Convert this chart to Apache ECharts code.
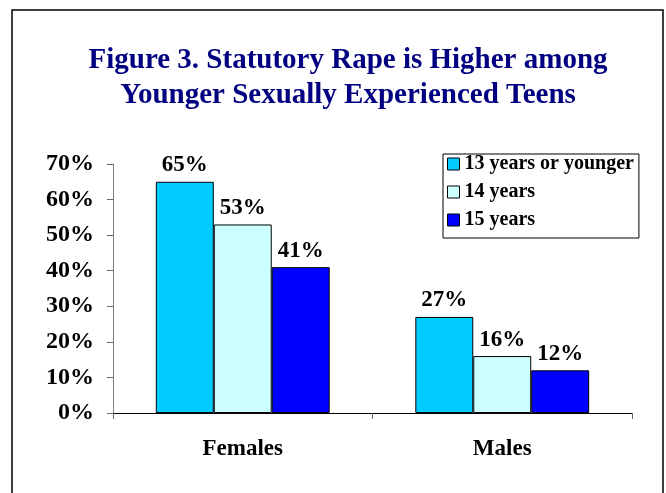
<!DOCTYPE html>
<html>
<head>
<meta charset="utf-8">
<script src="https://cdn.jsdelivr.net/npm/echarts@6/dist/echarts.min.js"></script>
<style>
  html, body { margin: 0; padding: 0; background: #fff; }
  #main { width: 666px; height: 493px; }
</style>
</head>
<body>
<div id="main"></div>
<script>
// data
const groups = ["Females", "Males"];
const ageNames = ["13 years or younger", "14 years", "15 years"];
const age13 = [65, 27];
const age14 = [53, 16];
const age15 = [41, 12];
const ageColors = ["#00CCFF", "#CCFFFF", "#0000FF"];

const serif = "Liberation Serif";

function barSeries(name, values, color) {
  return {
    name: name,
    type: "bar",
    data: values,
    barGap: "0%",
    barCategoryGap: "33%",
    itemStyle: {
      color: color,
      borderColor: "#000",
      borderWidth: 1,
    },
    label: {
      show: true,
      position: "top",
      distance: 5,
      formatter: "{c}%",
      fontFamily: serif,
      fontWeight: "bold",
      fontSize: 23,
      color: "#000",
    },
  };
}

var chartDom = document.getElementById("main");
var myChart = echarts.init(chartDom);
var option;

option = {
  backgroundColor: "#fff",
  animation: false,
  title: {
    text: "Figure 3. Statutory Rape is Higher among\nYounger Sexually Experienced Teens",
    left: 343,
    top: 38,
    textAlign: "center",
    textStyle: {
      fontFamily: serif,
      fontWeight: "bold",
      fontSize: 29,
      lineHeight: 35,
      color: "#000080",
    },
  },
  legend: {
    data: ageNames,
    orient: "vertical",
    left: 443,
    top: 154,
    padding: [0, 5, 8, 4],
    itemGap: 8,
    itemWidth: 12,
    itemHeight: 12,
    icon: "rect",
    borderColor: "#000",
    borderWidth: 1,
    itemStyle: { borderColor: "#000", borderWidth: 1 },
    textStyle: {
      fontFamily: serif,
      fontWeight: "bold",
      fontSize: 20,
      color: "#000",
    },
  },
  grid: {
    left: 113,
    right: 34,
    top: 164,
    bottom: 80,
  },
  xAxis: {
    type: "category",
    data: groups,
    axisLine: { lineStyle: { color: "#000", width: 1 } },
    axisTick: { show: true, length: 6, lineStyle: { color: "#666" } },
    axisLabel: {
      margin: 25,
      fontFamily: serif,
      fontWeight: "bold",
      fontSize: 23,
      color: "#000",
    },
  },
  yAxis: {
    type: "value",
    min: 0,
    max: 70,
    interval: 10,
    axisLine: { show: true, lineStyle: { color: "#808080", width: 1 } },
    axisTick: { show: true, length: 6, lineStyle: { color: "#666" } },
    splitLine: { show: false },
    axisLabel: {
      formatter: "{value}%",
      margin: 19,
      fontFamily: serif,
      fontWeight: "bold",
      fontSize: 24,
      color: "#000",
    },
  },
  series: [
    barSeries(ageNames[0], age13, ageColors[0]),
    barSeries(ageNames[1], age14, ageColors[1]),
    barSeries(ageNames[2], age15, ageColors[2]),
  ],
  graphic: [
    {
      type: "rect",
      shape: { x: 12, y: 10, width: 651, height: 520 },
      style: { fill: "none", stroke: "#000", lineWidth: 1.5 },
      silent: true,
    },
  ],
};

option && myChart.setOption(option);
</script>
</body>
</html>
